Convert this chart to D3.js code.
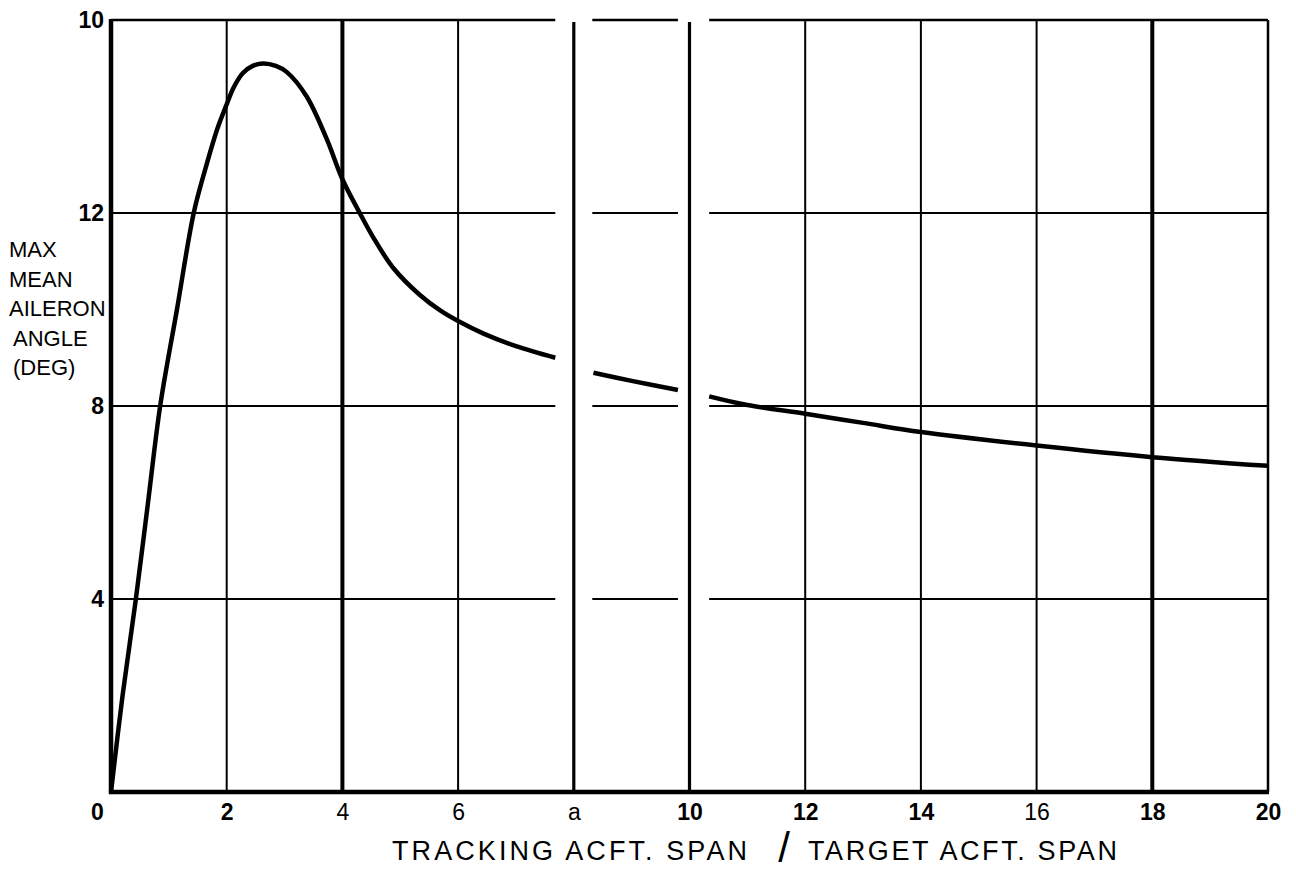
<!DOCTYPE html>
<html>
<head>
<meta charset="utf-8">
<script src="https://cdn.jsdelivr.net/npm/d3@7"></script>
<style>
  body { margin: 0; background: #fff; }
  #chart { width: 1296px; height: 873px; }
  text { font-family: "Liberation Sans", "DejaVu Sans", sans-serif; fill: #000; }
</style>
</head>
<body>
<div id="chart"></div>
<script>
'use strict';

// Curve: it is broken around x = 8 and x = 10
var seg1X = [0, 0.2, 0.43, 0.64, 0.85, 1.14, 1.43, 1.64, 1.84, 2.0, 2.12, 2.28, 2.45, 2.63, 2.85, 3.04, 3.38, 3.73, 4.0, 4.3, 4.53, 4.88, 5.34, 5.69, 6.0, 6.44, 7.0, 7.68]
var seg1Y = [0, 2, 4, 6, 8, 10, 12, 12.95, 13.75, 14.25, 14.6, 14.9, 15.05, 15.1, 15.05, 14.92, 14.42, 13.53, 12.7, 12.0, 11.5, 10.86, 10.3, 9.98, 9.76, 9.5, 9.24, 9.0]
var seg2X = [8.34, 9.0, 9.8]
var seg2Y = [8.69, 8.52, 8.33]
var seg3X = [10.34, 11, 12, 13, 14, 16, 18, 20]
var seg3Y = [8.2, 8.02, 7.84, 7.65, 7.46, 7.18, 6.94, 6.76]

// Gaps in the horizontal rules and the curve
var gapsX = [[7.68, 8.32], [9.8, 10.34]]

var xTicks = [0, 2, 4, 6, 8, 10, 12, 14, 16, 18, 20]
var xTickLabels = ['0', '2', '4', '6', 'a', '10', '12', '14', '16', '18', '20']
var yTicks = [4, 8, 12, 16]
var yTickLabels = ['4', '8', '12', '10']
var yTitle = ['MAX', 'MEAN', 'AILERON', 'ANGLE', '(DEG)']

function redraw() {
  var el = document.getElementById('chart')
  el.innerHTML = ''

  // Setup: dimensions
  var margin = {top: 20, right: 28, bottom: 81, left: 111}
  var width = 1296 - margin.left - margin.right
  var height = 873 - margin.top - margin.bottom

  // Setup: scales
  var x = d3.scaleLinear()
    .domain([0, 20])
    .range([0, width])

  var y = d3.scaleLinear()
    .domain([0, 16])
    .range([height, 0])

  var svg = d3.select(el).append('svg')
    .attr('width', width + margin.left + margin.right)
    .attr('height', height + margin.top + margin.bottom)

  var g = svg.append('g')
    .attr('transform', 'translate(' + margin.left + ',' + margin.top + ')')

  // Horizontal rules, cut where the gaps are
  var pieces = []
  var start = 0
  gapsX.forEach(function(gap){
    pieces.push([start, gap[0]])
    start = gap[1]
  })
  pieces.push([start, 20])

  yTicks.forEach(function(v){
    g.selectAll(null)
      .data(pieces)
      .enter().append('line')
        .attr('x1', function(p){ return x(p[0]) })
        .attr('x2', function(p){ return x(p[1]) })
        .attr('y1', y(v))
        .attr('y2', y(v))
        .attr('stroke', '#000')
        .attr('stroke-width', v === 16 ? 2.5 : 2.2)
  })

  // Vertical rules
  var bold = {4: 4, 8: 3.2, 10: 3.2, 18: 4, 20: 2.5}
  g.selectAll('.vrule')
    .data(xTicks.slice(1))
    .enter().append('line')
      .attr('class', 'vrule')
      .attr('x1', function(d){ return x(d) })
      .attr('x2', function(d){ return x(d) })
      .attr('y1', function(d){ return d === 8 || d === 10 ? y(15.96) : y(16) })
      .attr('y2', y(0))
      .attr('stroke', '#000')
      .attr('stroke-width', function(d){ return bold[d] || 2 })

  // Left and bottom frame
  g.append('line')
    .attr('x1', x(0)).attr('x2', x(0))
    .attr('y1', y(16) - 1).attr('y2', y(0) + 2)
    .attr('stroke', '#000')
    .attr('stroke-width', 4.5)
  g.append('line')
    .attr('x1', x(0) - 2).attr('x2', x(20) + 1)
    .attr('y1', y(0)).attr('y2', y(0))
    .attr('stroke', '#000')
    .attr('stroke-width', 4.5)

  // Axes
  var xAxis = d3.axisBottom(x)
    .tickValues(xTicks)
    .tickFormat(function(d, i){ return xTickLabels[i] })
    .tickSize(0)
    .tickPadding(12)
  var yAxis = d3.axisLeft(y)
    .tickValues(yTicks)
    .tickFormat(function(d, i){ return yTickLabels[i] })
    .tickSize(0)
    .tickPadding(7)

  var gx = g.append('g')
    .attr('transform', 'translate(0,' + height + ')')
    .call(xAxis)
  var gy = g.append('g')
    .call(yAxis)

  g.selectAll('.domain').remove()
  g.selectAll('.tick text')
    .attr('font-family', '"Liberation Sans", "DejaVu Sans", sans-serif')
    .style('font-size', '23px')
    .attr('fill', '#000')
  gx.selectAll('.tick text')
    .attr('font-weight', function(d){ return [4, 6, 8, 16].indexOf(d) >= 0 ? 'normal' : 'bold' })
    .attr('dx', function(d){ return d === 0 ? -14 : 0 })
  gy.selectAll('.tick text')
    .attr('font-weight', 'bold')

  // Curve
  var line = d3.line()
    .x(function(d){ return x(d[0]) })
    .y(function(d){ return y(d[1]) })
    .curve(d3.curveCatmullRom.alpha(0.5))

  var segments = [d3.zip(seg1X, seg1Y), d3.zip(seg2X, seg2Y), d3.zip(seg3X, seg3Y)]
  g.selectAll('.curve')
    .data(segments)
    .enter().append('path')
      .attr('class', 'curve')
      .attr('fill', 'none')
      .attr('stroke', '#000')
      .attr('stroke-width', 4.5)
      .attr('stroke-linejoin', 'round')
      .attr('d', line)

  // Y title, stacked lines
  var yt = svg.append('text')
    .attr('font-size', 22)
  yt.selectAll('tspan')
    .data(yTitle)
    .enter().append('tspan')
      .attr('x', function(d, i){ return i < 3 ? 9 : 13 })
      .attr('y', function(d, i){ return 257 + i * 29.5 })
      .text(function(d){ return d })

  // X title
  svg.append('text')
    .attr('x', 392)
    .attr('y', 860)
    .attr('font-size', 27)
    .attr('textLength', 355)
    .attr('lengthAdjust', 'spacing')
    .text('TRACKING ACFT. SPAN')
  svg.append('text')
    .attr('x', 784)
    .attr('y', 862)
    .attr('text-anchor', 'middle')
    .attr('font-size', 42)
    .text('/')
  svg.append('text')
    .attr('x', 808)
    .attr('y', 860)
    .attr('font-size', 27)
    .attr('textLength', 309)
    .attr('lengthAdjust', 'spacing')
    .text('TARGET ACFT. SPAN')
}

redraw()
</script>
</body>
</html>
